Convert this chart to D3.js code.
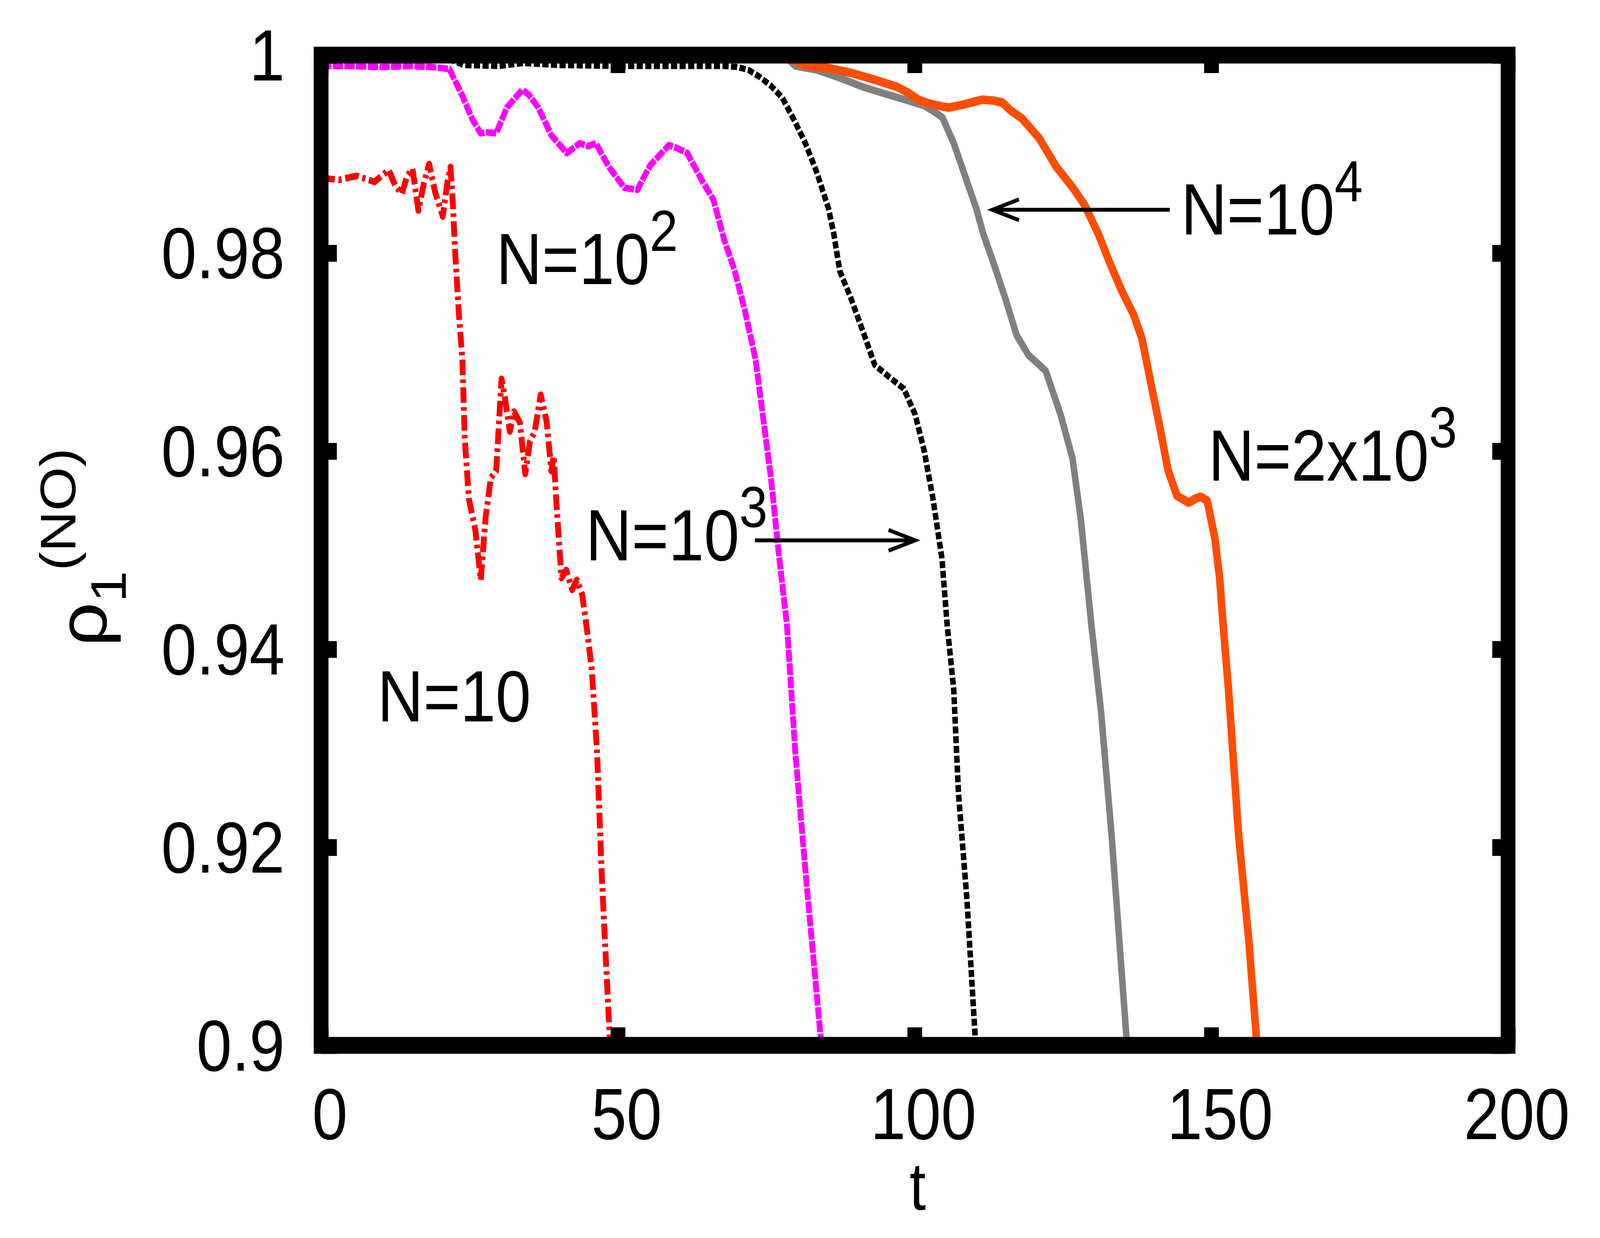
<!DOCTYPE html>
<html><head><meta charset="utf-8">
<script src="https://cdn.jsdelivr.net/npm/d3@7/dist/d3.min.js"></script>
<style>html,body{margin:0;padding:0;background:#fff;width:100%;height:100%;overflow:hidden;} svg{display:block;width:100vw;height:100vh;}</style>
</head><body>
<svg id="chart" viewBox="0 0 4664 3168" preserveAspectRatio="none"></svg>
<script>
// ---------- data ----------
const xTicks = [0, 50, 100, 150, 200];
const xTickLabels = ["0", "50", "100", "150", "200"];
const yTicks = [0.9, 0.92, 0.94, 0.96, 0.98, 1];
const yTickLabels = ["0.9", "0.92", "0.94", "0.96", "0.98", "1"];

// N = 10 (red, dash-dot)
const seriesN10 = [
  [0,0.9876],[3,0.9874],[6,0.9878],[9,0.9872],[11.4,0.9884],[12.5,0.9868],[13.6,0.9860],
  [14.5,0.9878],[15.4,0.9885],[16.4,0.9843],[17.3,0.9870],[18.2,0.9890],[19.2,0.9862],
  [20.5,0.9837],[21.3,0.9872],[21.8,0.9887],[22.2,0.9850],[22.6,0.9800],[23.2,0.9740],
  [23.8,0.9693],[24.2,0.9613],[24.9,0.9552],[26,0.9520],[26.9,0.9470],[27.7,0.9532],
  [28.6,0.9573],[29.5,0.9580],[30.4,0.9673],[31,0.9653],[31.8,0.9620],[32.5,0.9640],
  [33.5,0.9629],[34.4,0.9577],[35.2,0.9610],[36,0.9620],[37,0.9657],[38,0.9630],
  [38.8,0.9580],[39.2,0.9595],[39.6,0.9552],[40.5,0.9472],[41.3,0.9480],[42.3,0.9460],
  [43.1,0.9470],[44,0.9455],[44.8,0.9420],[45.6,0.9380],[46.5,0.9296],[47.3,0.9170],
  [48.7,0.9000],[49,0.8950]
];
// N = 10^2 (magenta)
const seriesN100 = [
  [0,0.9989],[5,0.9989],[10,0.9988],[15,0.9989],[18.5,0.9988],[21.6,0.9986],[23.8,0.9959],
  [25.5,0.9935],[26.9,0.9921],[28,0.9922],[29.5,0.9921],[31.3,0.9947],[33.9,0.9965],
  [35,0.9960],[36.6,0.9947],[38.8,0.9919],[41.4,0.9901],[42.5,0.9906],[43.6,0.9911],
  [45,0.9908],[46.3,0.9911],[48.5,0.9887],[51.1,0.9866],[53.3,0.9864],[54.5,0.9878],
  [55.5,0.9889],[58.6,0.9909],[60,0.9906],[61.7,0.9901],[64.4,0.9871],[66.1,0.9854],
  [67.9,0.9814],[69.7,0.9782],[71.4,0.9742],[73.2,0.9693],[74.5,0.9633],[75.8,0.9573],
  [77.2,0.9492],[78.5,0.9424],[79.9,0.9296],[81.7,0.9170],[84.3,0.9000],[84.6,0.8980]
];
// N = 10^3 (black, dotted)
const seriesN1000 = [
  [0,1.0],[20,1.0],[24,0.9990],[30,0.9989],[34,0.9992],[40,0.9990],[50,0.9989],[60,0.9989],
  [68,0.9989],[70.1,0.9988],[72,0.9985],[73.9,0.9978],[75.8,0.9969],[77.7,0.9957],
  [79.7,0.99345],[81.6,0.9911],[83.5,0.9882],[85.5,0.9845],[86.4,0.9819],[87.4,0.9782],
  [89.3,0.9754],[91.3,0.9721],[93.3,0.9687],[95.7,0.9675],[98.2,0.9663],[100.1,0.9637],
  [101.6,0.9601],[103.1,0.9552],[104.6,0.9492],[105.5,0.9424],[106.6,0.9359],[107.4,0.9254],
  [108.8,0.9149],[110.3,0.9000],[110.5,0.8980]
];
// N = 10^4 (gray, solid)
const seriesN10000 = [
  [0,1.0],[78,1.0],[79.9,0.9989],[83.5,0.9985],[87.4,0.9977],[91.2,0.9968],[95,0.9961],
  [98.9,0.9954],[101.6,0.9949],[103,0.9944],[104.7,0.9937],[106.6,0.9911],[108.5,0.9878],
  [110.4,0.9845],[111.6,0.9819],[113.3,0.9790],[115.3,0.9754],[117.2,0.9717],[119.2,0.9697],
  [120.5,0.9690],[122.1,0.9681],[124.6,0.9637],[126.6,0.9593],[128,0.9532],[129,0.9472],
  [129.8,0.9424],[131.4,0.9338],[133.2,0.9212],[135.8,0.9000],[136,0.8980]
];
// N = 2x10^3 (orange, solid)
const seriesN2000 = [
  [0,1.0],[78,1.0],[81.6,0.9989],[85.5,0.9987],[89.3,0.9982],[93.1,0.99755],[97,0.9968],
  [98.9,0.9962],[100.6,0.9955],[102.5,0.9951],[104.7,0.9948],[105.8,0.9947],[107.4,0.9949],
  [109.5,0.9952],[111.4,0.9955],[113.3,0.9954],[114.8,0.9952],[116.2,0.9944],[118.1,0.9936],
  [121,0.9916],[123.9,0.9887],[126.8,0.9865],[128.7,0.9848],[131,0.9819],[132.9,0.9790],
  [134.9,0.9762],[136.9,0.9738],[138.3,0.9714],[139.8,0.9669],[141.3,0.9625],[142.7,0.9581],
  [144.2,0.9555],[146.2,0.9548],[147.3,0.9552],[148.2,0.9554],[149.3,0.9550],[150.6,0.9512],
  [151.4,0.9472],[152,0.9424],[152.9,0.9359],[154.6,0.9212],[156.3,0.9107],[157.7,0.9000],
  [158,0.8980]
];

// arrows (data coordinates: from -> to)
const arrowN1000 = [[73.1, 0.9510], [100.1, 0.9510]];
const arrowN10000 = [[143.0, 0.98438], [113.1, 0.98438]];

// annotation labels: [t, rho(baseline), main text, superscript]
const labelN10 = [9.5, 0.93272, "N=10", ""];
const labelN100 = [29.5, 0.97688, "N=10", "2"];
const labelN1000 = [44.6, 0.94898, "N=10", "3"];
const labelN10000 = [144.9, 0.98190, "N=10", "4"];
const labelN2000 = [149.5, 0.95703, "N=2x10", "3"];

// ---------- layout / style ----------
const svg = d3.select("#chart");
const L = 936, R = 4396, T = 141, B = 2675;
const FONT = "'Liberation Sans', Arial, Helvetica, sans-serif";
const x = d3.scaleLinear().domain([0, 200]).range([L, R]);
const y = d3.scaleLinear().domain([0.9, 1]).range([B, T]);

svg.append("rect").attr("width", 4664).attr("height", 3168).attr("fill", "#fff");

svg.append("clipPath").attr("id", "plotclip")
  .append("rect").attr("x", L).attr("y", T).attr("width", R - L).attr("height", B - T);

const line = d3.line().x(d => x(d[0])).y(d => y(d[1]));
const gLines = svg.append("g").attr("clip-path", "url(#plotclip)");

const styles = [
  {data: seriesN10, color: "#ff0000", width: 17, dash: "40,11,9,11"},
  {data: seriesN100, color: "#ff00ff", width: 17, dash: "30,4"},
  {data: seriesN1000, color: "#000000", width: 16, dash: "18,7"},
  {data: seriesN10000, color: "#808080", width: 19, dash: null},
  {data: seriesN2000, color: "#ff4d00", width: 22, dash: null}
];
styles.forEach(s => {
  gLines.append("path").datum(s.data)
    .attr("d", line)
    .attr("fill", "none")
    .attr("stroke", s.color)
    .attr("stroke-width", s.width)
    .attr("stroke-linejoin", "round")
    .attr("stroke-dasharray", s.dash);
});

// arrows
function drawArrow(a) {
  const x1 = x(a[0][0]), y1 = y(a[0][1]), x2 = x(a[1][0]), y2 = y(a[1][1]);
  const ang = Math.atan2(y2 - y1, x2 - x1);
  const hl = 82, hw = 0.33;
  const g = svg.append("g").attr("stroke", "#000").attr("stroke-width", 10).attr("fill", "none");
  g.append("line").attr("x1", x1).attr("y1", y1).attr("x2", x2).attr("y2", y2);
  g.append("path").attr("d",
    `M${x2 - hl * Math.cos(ang - hw)},${y2 - hl * Math.sin(ang - hw)} L${x2},${y2} L${x2 - hl * Math.cos(ang + hw)},${y2 - hl * Math.sin(ang + hw)}`)
    .attr("stroke-linejoin", "miter");
}
drawArrow(arrowN1000);
drawArrow(arrowN10000);

// annotation labels
[labelN10, labelN100, labelN1000, labelN10000, labelN2000].forEach(lb => {
  const t = svg.append("text")
    .attr("x", x(lb[0])).attr("y", y(lb[1]))
    .attr("font-family", FONT).attr("font-size", 185).attr("fill", "#000");
  t.append("tspan").text(lb[2]);
  if (lb[3]) t.append("tspan").attr("font-size", 148).attr("dy", -85).text(lb[3]);
});

// frame
svg.append("rect").attr("x", L).attr("y", T).attr("width", R - L).attr("height", B - T)
  .attr("fill", "none").attr("stroke", "#000").attr("stroke-width", 43);

// axes (ticks inward, mirrored)
const TL = 46;
const axB = svg.append("g").attr("transform", `translate(0,${B})`)
  .call(d3.axisBottom(x).tickValues(xTicks).tickFormat((d, i) => xTickLabels[i]).tickSizeInner(-TL).tickSizeOuter(0));
const axT = svg.append("g").attr("transform", `translate(0,${T})`)
  .call(d3.axisTop(x).tickValues(xTicks).tickFormat("").tickSizeInner(-TL).tickSizeOuter(0));
const axL = svg.append("g").attr("transform", `translate(${L},0)`)
  .call(d3.axisLeft(y).tickValues(yTicks).tickFormat((d, i) => yTickLabels[i]).tickSizeInner(-TL).tickSizeOuter(0));
const axR = svg.append("g").attr("transform", `translate(${R},0)`)
  .call(d3.axisRight(y).tickValues(yTicks).tickFormat("").tickSizeInner(-TL).tickSizeOuter(0));
[axB, axT, axL, axR].forEach(g => {
  g.select(".domain").remove();
  g.selectAll(".tick line").attr("stroke", "#000").attr("stroke-width", 43);
});
axB.selectAll(".tick text")
  .attr("font-family", FONT).attr("font-size", 185).attr("fill", "#000")
  .attr("text-anchor", "middle").attr("x", 25).attr("y", 240).attr("dy", 0);
axL.selectAll(".tick text")
  .attr("font-family", FONT).attr("font-size", 185).attr("fill", "#000")
  .attr("text-anchor", "end").attr("x", 830 - L).attr("y", 64).attr("dy", 0);

// axis titles
svg.append("text").attr("x", 2675).attr("y", 3096)
  .attr("font-family", FONT).attr("font-size", 172).attr("text-anchor", "middle").text("t");

const yl = svg.append("text")
  .attr("transform", "translate(310,1655) rotate(-90)")
  .attr("font-family", FONT).attr("font-size", 185).attr("fill", "#000");
yl.append("tspan").attr("font-size", 200).text("ρ");
yl.append("tspan").attr("font-size", 145).attr("dy", 57).text("1");
yl.append("tspan").attr("font-size", 145).attr("dy", -147).text("(NO)");
</script>
</body></html>
